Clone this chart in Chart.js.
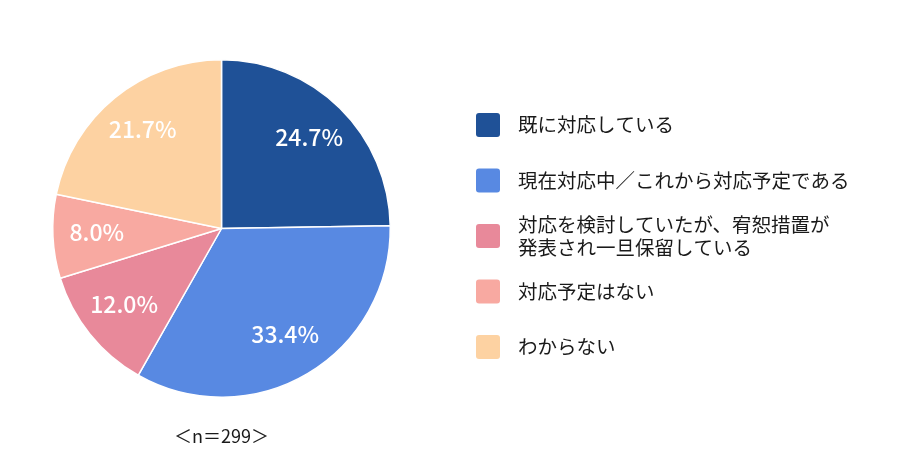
<!DOCTYPE html>
<html><head><meta charset="utf-8">
<script src="https://cdn.jsdelivr.net/npm/chart.js@4"></script>
<style>html,body{margin:0;padding:0;background:#fff}#wrap{width:900px;height:461px}</style>
</head><body><div id="wrap"><canvas id="c"></canvas></div>
<script>
const categories = [
  ["既に対応している"],
  ["現在対応中／これから対応予定である"],
  ["対応を検討していたが、宥恕措置が", "発表され一旦保留している"],
  ["対応予定はない"],
  ["わからない"]
];
const values = [24.7, 33.4, 12.0, 8.0, 21.7];
const valueLabels = ["24.7%", "33.4%", "12.0%", "8.0%", "21.7%"];
const colors = ["#1F5197", "#5889E2", "#E8899A", "#F8A9A1", "#FDD2A2"];
const footnote = "＜n＝299＞";
const FONT = '"Noto Sans CJK JP", "Noto Sans", sans-serif';

const overlay = {
  id: 'overlay',
  afterDatasetsDraw(chart) {
    const ctx = chart.ctx;
    const meta = chart.getDatasetMeta(0);
    ctx.save();
    // slice labels
    ctx.fillStyle = '#fff';
    ctx.font = '500 23px ' + FONT;
    ctx.textAlign = 'center';
    ctx.textBaseline = 'middle';
    meta.data.forEach((arc, i) => {
      const p = arc.getProps(['x','y','startAngle','endAngle','outerRadius'], true);
      const mid = (p.startAngle + p.endAngle) / 2;
      const r = p.outerRadius * 0.74;
      ctx.fillText(valueLabels[i], p.x + Math.cos(mid) * r, p.y + Math.sin(mid) * r - 2);
    });
    // legend
    const lx = 476, tx = 518, y0 = 125, step = 55.5, bs = 24;
    ctx.textAlign = 'left';
    ctx.font = '19.5px ' + FONT;
    categories.forEach((lines, i) => {
      const cy = y0 + i * step;
      ctx.fillStyle = colors[i];
      ctx.beginPath();
      ctx.roundRect(lx, cy - bs/2, bs, bs, 3);
      ctx.fill();
      ctx.fillStyle = '#1a1a1a';
      const lh = 23;
      const startY = cy - (lines.length - 1) * lh / 2;
      lines.forEach((t, j) => ctx.fillText(t, tx, startY + j * lh));
    });
    // footnote
    ctx.textAlign = 'center';
    ctx.font = '18px ' + FONT;
    ctx.fillText(footnote, 221.5, 436);
    ctx.restore();
  }
};

new Chart(document.getElementById('c'), {
  type: 'pie',
  data: {
    labels: categories.map(l => l.join('')),
    datasets: [{
      data: values,
      backgroundColor: colors,
      borderColor: '#fff',
      borderWidth: 1.5
    }]
  },
  options: {
    responsive: true,
    maintainAspectRatio: false,
    animation: false,
    layout: { padding: { left: 52, top: 59, right: 509, bottom: 63 } },
    plugins: { legend: { display: false }, tooltip: { enabled: false } }
  },
  plugins: [overlay]
});
</script></body></html>
